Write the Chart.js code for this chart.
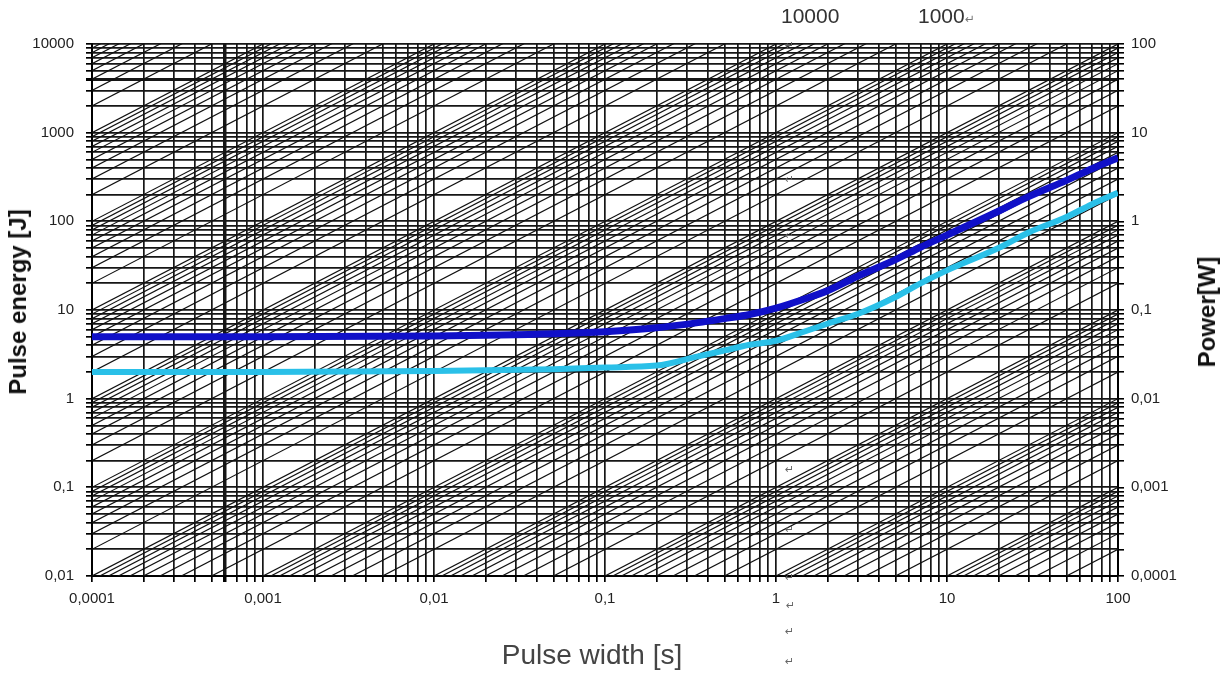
<!DOCTYPE html>
<html>
<head>
<meta charset="utf-8">
<script src="https://cdn.jsdelivr.net/npm/chart.js@4.4.1/dist/chart.umd.min.js"></script>
<style>
  html, body { margin: 0; padding: 0; background: #fff; }
  #wrap { position: relative; width: 1227px; height: 674px; overflow: hidden; }
  #chart { position: absolute; left: 0; top: 0; }
  .lbl { position: absolute; font-family: "Liberation Sans", Arial, sans-serif; color: #222; white-space: nowrap; line-height: 1; }
  .rot { transform: translate(-50%, -50%) rotate(-90deg); font-weight: bold; font-size: 24px; color: #111; }
  .mark { position: absolute; font-family: "DejaVu Sans", sans-serif; font-size: 11px; color: #666; line-height: 1; }
</style>
</head>
<body>
<div id="wrap">
  <canvas id="chart" width="1227" height="674"></canvas>
  <div class="lbl rot" style="left:18px; top:302px;">Pulse energy [J]</div>
  <div class="lbl rot" style="left:1207px; top:312px;">Power[W]</div>
  <div class="lbl" style="left:592px; top:655px; transform: translate(-50%, -50%); font-size:28px; color:#444;">Pulse width [s]</div>
  <div class="lbl" style="left:781px; top:5px; font-size:21px; color:#333;">10000</div>
  <div class="lbl" style="left:918px; top:5px; font-size:21px; color:#333;">1000<span style="font-family:'DejaVu Sans'; font-size:12px; color:#777;">↵</span></div>
  <div id="marks"></div>
</div>
<script>
// Axis decades and tick labels
const xDecades = [0.0001, 0.001, 0.01, 0.1, 1, 10, 100];
const xTickLabels = ['0,0001', '0,001', '0,01', '0,1', '1', '10', '100'];
const yDecades = [0.01, 0.1, 1, 10, 100, 1000, 10000];
const yTickLabels = ['0,01', '0,1', '1', '10', '100', '1000', '10000'];
const powerDecadesAxis = [0.0001, 0.001, 0.01, 0.1, 1, 10, 100];
const powerTickLabels = ['0,0001', '0,001', '0,01', '0,1', '1', '10', '100'];
const gridSteps = [1, 2, 3, 4, 5, 6, 7, 8, 9];

// Constant power reference lines (W)
const powerLineDecades = [0.0001, 0.001, 0.01, 0.1, 1, 10, 100, 1000, 10000, 100000, 1000000, 10000000];
const powerLineSteps = [1, 2, 3, 4, 5, 6, 7, 8, 9];

// Measured curves
const pulseWidth = [0.0001, 0.001, 0.01, 0.05, 0.1, 0.2, 0.35, 0.5, 0.7, 1, 1.5, 2, 3, 5, 7, 10, 20, 30, 50, 70, 100];
const energyBlue = [5.0, 5.0, 5.1, 5.4, 5.7, 6.3, 7.2, 8.0, 8.9, 10.5, 13.5, 16.5, 24, 37, 51, 70, 130, 190, 290, 390, 520];
const energyCyan = [2.0, 2.0, 2.05, 2.15, 2.25, 2.36, 3.0, 3.5, 4.05, 4.5, 5.8, 7.0, 9.0, 14, 20, 28, 50, 75, 112, 155, 210];

// Paragraph marks along the x = 1 column
const markPositions = [[785, 40], [785, 174], [785, 230], [785, 464], [785, 524], [785, 572], [786, 600], [785, 626], [785, 656]];

function logTicks(decades) {
    const out = [];
    decades.forEach((d, i) => {
        if (i === decades.length - 1) { out.push(d); return; }
        gridSteps.forEach(s => out.push(+(s * d).toPrecision(6)));
    });
    return out;
}

function decadeLabel(decades, labels) {
    return value => {
        const i = decades.findIndex(d => Math.abs(d - value) / d < 1e-6);
        return i >= 0 ? labels[i] : '';
    };
}

const tickFont = { family: '"Liberation Sans", Arial, sans-serif', size: 15 };

const datasets = [
    {
        label: 'blue',
        data: pulseWidth.map((t, i) => ({ x: t, y: energyBlue[i] })),
        borderColor: '#1010c8',
        borderWidth: 7,
        pointRadius: 0,
        cubicInterpolationMode: 'monotone',
        order: 0
    },
    {
        label: 'cyan',
        data: pulseWidth.map((t, i) => ({ x: t, y: energyCyan[i] })),
        borderColor: '#2ac0e8',
        borderWidth: 6,
        pointRadius: 0,
        cubicInterpolationMode: 'monotone',
        order: 0
    }
];

const tMin = xDecades[0];
const tMax = xDecades[xDecades.length - 1];
powerLineDecades.forEach(d => {
    powerLineSteps.forEach(s => {
        const p = s * d;
        datasets.push({
            label: 'P' + p,
            data: [{ x: tMin, y: p * tMin }, { x: tMax, y: p * tMax }],
            borderColor: '#111',
            borderWidth: 1.2,
            pointRadius: 0,
            order: 1
        });
    });
});

const ctx = document.getElementById('chart').getContext('2d');
new Chart(ctx, {
    type: 'line',
    data: { datasets },
    options: {
        responsive: false,
        animation: false,
        layout: { padding: { top: 44, left: 0, right: 0, bottom: 0 } },
        plugins: {
            legend: { display: false },
            tooltip: { enabled: false }
        },
        scales: {
            x: {
                type: 'logarithmic',
                min: tMin,
                max: tMax,
                afterBuildTicks: scale => { scale.ticks = logTicks(xDecades).map(v => ({ value: v })); },
                afterFit: scale => { scale.height = 98; },
                ticks: {
                    autoSkip: false,
                    maxRotation: 0,
                    minRotation: 0,
                    padding: 8,
                    color: '#222',
                    font: tickFont,
                    callback: decadeLabel(xDecades, xTickLabels)
                },
                grid: {
                    color: '#161616',
                    lineWidth: c => (c.tick && Math.abs(c.tick.value - 0.0006) < 1e-9) ? 3.5 : 1.7,
                    tickLength: 6,
                    tickColor: '#000'
                },
                border: { color: '#000', width: 2 }
            },
            y: {
                type: 'logarithmic',
                position: 'left',
                min: yDecades[0],
                max: yDecades[yDecades.length - 1],
                afterBuildTicks: scale => { scale.ticks = logTicks(yDecades).map(v => ({ value: v })); },
                afterFit: scale => { scale.width = 92; },
                ticks: {
                    autoSkip: false,
                    padding: 12,
                    color: '#222',
                    font: tickFont,
                    callback: decadeLabel(yDecades, yTickLabels)
                },
                grid: {
                    color: '#161616',
                    lineWidth: c => (c.tick && Math.abs(c.tick.value - 4000) < 1e-6) ? 3 : 1.7,
                    tickLength: 6,
                    tickColor: '#000'
                },
                border: { color: '#000', width: 2 }
            },
            y2: {
                type: 'logarithmic',
                position: 'right',
                min: powerDecadesAxis[0],
                max: powerDecadesAxis[powerDecadesAxis.length - 1],
                afterBuildTicks: scale => { scale.ticks = logTicks(powerDecadesAxis).map(v => ({ value: v })); },
                afterFit: scale => { scale.width = 109; },
                ticks: {
                    autoSkip: false,
                    padding: 7,
                    color: '#222',
                    font: tickFont,
                    callback: decadeLabel(powerDecadesAxis, powerTickLabels)
                },
                grid: {
                    drawOnChartArea: false,
                    tickLength: 6,
                    tickColor: '#000',
                    lineWidth: 1.6
                },
                border: { color: '#000', width: 2 }
            }
        }
    }
});

// Paragraph marks
const marks = document.getElementById('marks');
markPositions.forEach(([x, y]) => {
    const s = document.createElement('span');
    s.className = 'mark';
    s.style.left = x + 'px';
    s.style.top = y + 'px';
    s.textContent = '↵';
    marks.appendChild(s);
});
</script>
</body>
</html>
